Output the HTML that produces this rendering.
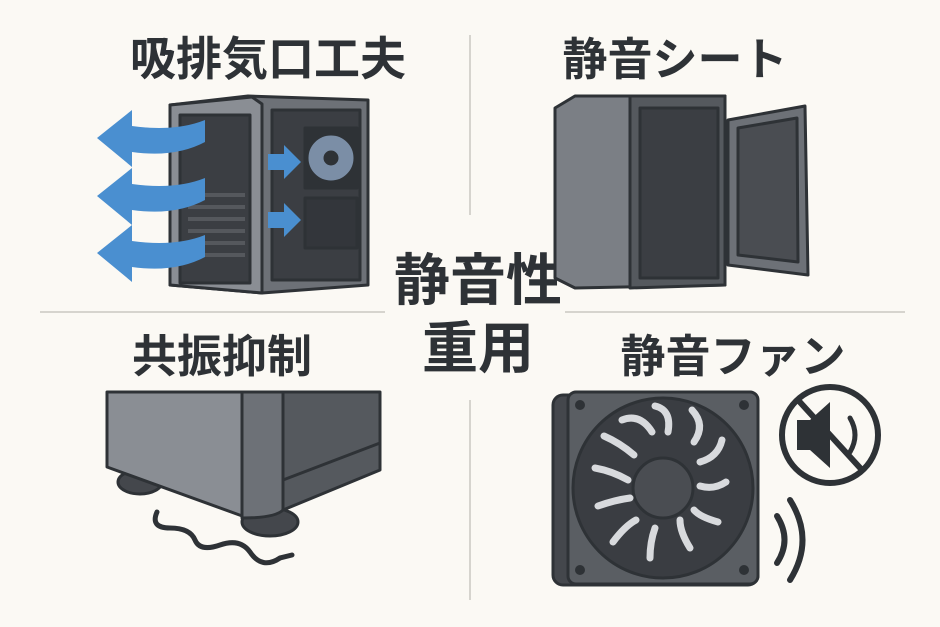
<!DOCTYPE html>
<html><head><meta charset="utf-8"><style>
html,body{margin:0;padding:0;background:#fbf9f4;}
svg{display:block}
text{font-family:"Liberation Sans","Noto Sans CJK JP",sans-serif;font-weight:bold;fill:#2e3236}
</style></head><body>
<svg width="940" height="627" viewBox="0 0 940 627" xmlns="http://www.w3.org/2000/svg">
<rect width="940" height="627" fill="#fbf9f4"/>
<g stroke="#d6d4ce" stroke-width="2">
<line x1="470" y1="35" x2="470" y2="215"/>
<line x1="470" y1="400" x2="470" y2="600"/>
<line x1="40" y1="312" x2="385" y2="312"/>
<line x1="565" y1="312" x2="905" y2="312"/>
</g>
<text x="268" y="75" font-size="46" text-anchor="middle">吸排気口工夫</text>
<text x="675" y="75" font-size="45" text-anchor="middle">静音シート</text>
<text x="222" y="372" font-size="45" text-anchor="middle">共振抑制</text>
<text x="733" y="372" font-size="45" text-anchor="middle">静音ファン</text>
<text x="478" y="300" font-size="56" text-anchor="middle">静音性</text>
<text x="478" y="368" font-size="56" text-anchor="middle">重用</text>

<!-- case 1 -->
<g stroke="#2e3236" stroke-width="3" stroke-linejoin="round">
<path d="M170 105 L248 96 L368 100 L368 285 L262 293 L170 285 Z" fill="#6d7177"/>
<path d="M170 105 L252 97 L262 104 L262 293 L170 285 Z" fill="#8a8e94"/>
<rect x="180" y="115" width="70" height="168" fill="#3b3e43"/>
<rect x="272" y="110" width="88" height="170" fill="#3b3e43"/>
<rect x="305" y="128" width="52" height="60" fill="#2e3236"/>
<circle cx="331" cy="158" r="24" fill="#7b8ea6"/>
<circle cx="331" cy="158" r="6" fill="#2e3236"/>
<rect x="305" y="198" width="52" height="50" fill="#33363b"/>
</g>
<g stroke="#55585d" stroke-width="4">
<line x1="188" y1="195" x2="245" y2="195"/><line x1="188" y1="207" x2="245" y2="207"/>
<line x1="188" y1="219" x2="245" y2="219"/><line x1="188" y1="231" x2="245" y2="231"/>
<line x1="188" y1="243" x2="245" y2="243"/><line x1="188" y1="255" x2="245" y2="255"/>
</g>
<g fill="#4a8fd0">
<path d="M205 142 Q175 158 132 152 L132 167 L97 138 L132 110 L132 126 Q175 132 205 120 Z"/>
<path d="M205 200 Q175 216 132 210 L132 225 L97 196 L132 168 L132 184 Q175 190 205 178 Z"/>
<path d="M205 257 Q175 273 132 267 L132 282 L97 253 L132 225 L132 241 Q175 247 205 235 Z"/>
<path d="M268 154 L284 154 L284 145 L301 162 L284 179 L284 170 L268 170 Z"/>
<path d="M268 212 L284 212 L284 203 L301 220 L284 237 L284 228 L268 228 Z"/>
</g>

<!-- case 2 -->
<g stroke="#2e3236" stroke-width="3" stroke-linejoin="round">
<path d="M555 108 L575 96 L725 96 L725 285 L575 288 L555 278 Z" fill="#7b7f85"/>
<path d="M630 96 L725 96 L725 285 L630 288 Z" fill="#55595e"/>
<rect x="640" y="108" width="78" height="170" fill="#3b3e43"/>
<path d="M728 120 L805 106 L808 275 L728 265 Z" fill="#6d7177"/>
<path d="M738 128 L797 118 L798 262 L738 255 Z" fill="#4a4d52"/>
</g>

<!-- case 3 -->
<g stroke="#2e3236" stroke-width="3" stroke-linejoin="round">
<ellipse cx="140" cy="482" rx="22" ry="12" fill="#44474c"/>
<ellipse cx="270" cy="522" rx="28" ry="14" fill="#44474c"/>
<path d="M107 392 L245 392 L245 517 L107 467 Z" fill="#8a8e94"/>
<path d="M242 392 L283 392 L283 510 Q275 518 242 518 Z" fill="#6d7177"/>
<path d="M283 392 L380 392 L380 470 L283 510 Z" fill="#55595e"/>
<path d="M283 480 L380 443" fill="none"/>
</g>
<path d="M157 512 Q150 528 170 528 Q190 528 195 540 Q200 552 220 545 Q240 538 250 552 Q262 570 280 558 L292 555" fill="none" stroke="#2e3236" stroke-width="5" stroke-linecap="round"/>

<!-- fan -->
<g stroke="#2e3236" stroke-width="3" stroke-linejoin="round">
<rect x="553" y="395" width="205" height="190" rx="10" fill="#44474c"/>
<rect x="568" y="392" width="190" height="192" rx="8" fill="#5a5e63"/>
<circle cx="663" cy="488" r="90" fill="#3a3d42"/>
<circle cx="663" cy="488" r="30" fill="#4a4d52"/>
</g>
<g stroke="#d8dadd" stroke-width="7" stroke-linecap="round" fill="none">
<path d="M622 420 Q640 413 652 432"/><path d="M655 406 Q672 410 668 432"/>
<path d="M692 410 Q706 425 694 442"/><path d="M722 440 Q718 457 700 462"/>
<path d="M726 482 Q714 490 700 486"/><path d="M718 522 Q700 517 694 510"/>
<path d="M690 548 Q680 532 680 520"/><path d="M650 558 Q650 542 655 528"/>
<path d="M613 542 Q625 526 636 520"/><path d="M598 506 Q615 500 630 498"/>
<path d="M595 468 Q612 471 628 480"/><path d="M604 436 Q620 443 634 455"/>
</g>
<g fill="#2e3236"><circle cx="580" cy="405" r="5"/><circle cx="744" cy="405" r="5"/><circle cx="580" cy="570" r="5"/><circle cx="744" cy="570" r="5"/></g>
<circle cx="830" cy="435" r="48" fill="none" stroke="#2e3236" stroke-width="6"/>
<path d="M797 420 L810 420 L830 402 L830 468 L810 450 L797 450 Z" fill="#2e3236"/>
<path d="M850 418 Q860 435 850 452" fill="none" stroke="#2e3236" stroke-width="5" stroke-linecap="round"/>
<line x1="798" y1="400" x2="862" y2="470" stroke="#2e3236" stroke-width="6"/>
<path d="M777 516 Q792 540 777 563" fill="none" stroke="#2e3236" stroke-width="6" stroke-linecap="round"/>
<path d="M790 500 Q815 540 790 580" fill="none" stroke="#2e3236" stroke-width="6" stroke-linecap="round"/>
</svg>
</body></html>
